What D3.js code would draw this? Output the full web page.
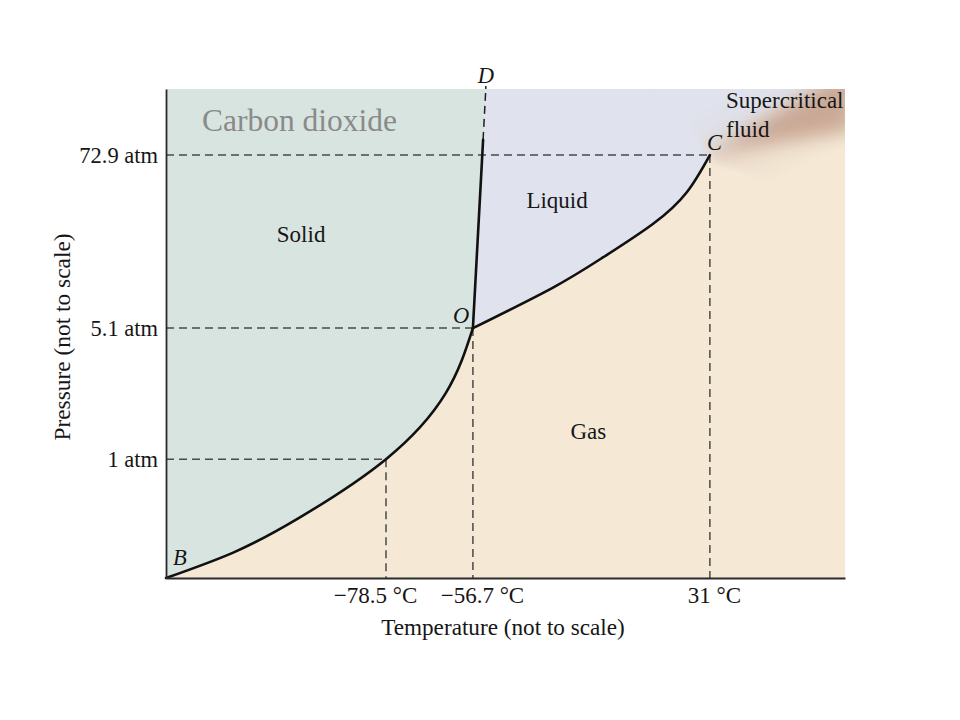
<!DOCTYPE html>
<html>
<head>
<meta charset="utf-8">
<script src="https://cdn.jsdelivr.net/npm/d3@7"></script>
<style>
  html, body { margin: 0; padding: 0; background: #ffffff; }
  svg { display: block; }
  text { font-family: "Liberation Serif", "DejaVu Serif", serif; fill: #161616; }
</style>
</head>
<body>
<svg id="chart" width="960" height="720"></svg>
<script>
// ---- Data (diagram units, not to scale: 0..100 on each axis) ----
const pressureLabels = ["1 atm", "5.1 atm", "72.9 atm"];
const pressureValues = [24.3, 51.1, 86.5];
const tempLabels = ["\u221278.5 \u00B0C", "\u221256.7 \u00B0C", "31 \u00B0C"];
const tempValues = [32.4, 45.2, 80.1];
const tempLabelShift = [-11, 9, 4];

// Sublimation curve B -> O
const sublimationT = [0, 9.9, 19.6, 32.4, 41.2, 45.2];
const sublimationP = [0, 5.2, 12.3, 24.3, 37.8, 51.1];
// Vaporization curve O -> C
const vaporT = [45.2, 57.0, 64.4, 71.7, 76.7, 80.1];
const vaporP = [51.1, 59.4, 65.6, 72.4, 78.9, 86.5];
// Fusion line O -> D (solid part, then dashed extension)
const fusionT = [45.2, 46.7];
const fusionP = [51.1, 89.6];
const fusionDashT = [46.7, 47.1];
const fusionDashP = [89.6, 100];
// Supercritical fluid tint (fan opening from C toward the top-right corner)
const superT = [80.7, 101, 101];
const superP = [87.1, 104.5, 91.5];

const points = [
  { name: "B", t: 0, p: 0, dx: 7, dy: -13 },
  { name: "O", t: 45.2, p: 51.1, dx: -20, dy: -5 },
  { name: "C", t: 80.1, p: 86.5, dx: -3, dy: -5 },
  { name: "D", t: 47.1, p: 100, dx: -8, dy: -6 }
];
const regionLabels = [
  { name: "Solid", t: 19.9, p: 68.7 },
  { name: "Liquid", t: 57.6, p: 75.7 },
  { name: "Gas", t: 62.2, p: 28.4 }
];

// ---- Layout ----
const svg = d3.select("#chart");
const mLeft = 166, mRight = 845, mTop = 89, mBottom = 578;
const x = d3.scaleLinear().domain([0, 100]).range([mLeft, mRight]);
const y = d3.scaleLinear().domain([0, 100]).range([mBottom, mTop]);

const zip = (a, b) => a.map((v, i) => [v, b[i]]);
const line = d3.line().x(d => x(d[0])).y(d => y(d[1])).curve(d3.curveNatural);
const straight = d3.line().x(d => x(d[0])).y(d => y(d[1]));

const LAV = "#e0e3ee", GAS = "#f5e9d6", SOL = "#d8e4e0";

const defs = svg.append("defs");
defs.append("clipPath").attr("id", "plotClip")
  .append("rect").attr("x", mLeft).attr("y", mTop).attr("width", mRight - mLeft).attr("height", mBottom - mTop);
const blur = defs.append("filter").attr("id", "soft").attr("x", "-20%").attr("y", "-20%").attr("width", "140%").attr("height", "140%");
blur.append("feGaussianBlur").attr("stdDeviation", 3);
const blur2 = defs.append("filter").attr("id", "soft2").attr("x", "-50%").attr("y", "-50%").attr("width", "200%").attr("height", "200%");
blur2.append("feGaussianBlur").attr("stdDeviation", 9);

// Gradient across the diagonal from C toward the top-right corner: liquid tint -> gas tint
const cx = x(80.1), cy = y(86.5);
const nx = 0.454, ny = 0.891;
const grad = defs.append("linearGradient").attr("id", "scGrad").attr("gradientUnits", "userSpaceOnUse")
  .attr("x1", cx - nx * 50).attr("y1", cy - ny * 50).attr("x2", cx + nx * 55).attr("y2", cy + ny * 55);
[[0, LAV], [0.3, "#dfdfe6"], [0.48, "#e2d5cc"], [0.62, "#ecdccb"], [1, GAS]]
  .forEach(s => grad.append("stop").attr("offset", s[0]).attr("stop-color", s[1]));

const plot = svg.append("g").attr("clip-path", "url(#plotClip)");

// Gas background
plot.append("rect").attr("x", mLeft).attr("y", mTop).attr("width", mRight - mLeft).attr("height", mBottom - mTop)
  .attr("fill", GAS);

// Solid region
const sub = zip(sublimationT, sublimationP);
const solidPts = [[0, 100], [fusionDashT[1], fusionDashP[1]], [fusionT[1], fusionP[1]]];
plot.append("path")
  .attr("d", straight(solidPts) + line(sub.slice().reverse()).replace(/^M/, "L") + "Z")
  .attr("fill", SOL);

// Liquid region
const vap = zip(vaporT, vaporP);
const liquidPts = [[fusionT[0], fusionP[0]], [fusionT[1], fusionP[1]], [fusionDashT[1], fusionDashP[1]],
  [79, 100], [80.1, 86.5]];
plot.append("path")
  .attr("d", straight(liquidPts) + line(vap.slice().reverse()).replace(/^M/, "L") + "Z")
  .attr("fill", LAV);

// Supercritical fluid: transition overlay + brown fan
plot.append("path")
  .attr("d", straight([[80.1, 86.5], [72, 102], [103, 102], [103, 75], [81, 85]]) + "Z")
  .attr("fill", "url(#scGrad)").attr("filter", "url(#soft)");
plot.append("path")
  .attr("d", straight(zip(superT, superP)) + "Z")
  .attr("fill", "#c4a08c").attr("opacity", 0.85).attr("filter", "url(#soft2)");

// Dashed guide lines
const guides = svg.append("g").attr("stroke", "#4a4a4a").attr("stroke-width", 1.5)
  .attr("stroke-dasharray", "8,5").attr("fill", "none");
pressureValues.forEach((p, i) => {
  guides.append("line").attr("x1", x(0)).attr("x2", x(tempValues[i])).attr("y1", y(p)).attr("y2", y(p));
  guides.append("line").attr("x1", x(tempValues[i])).attr("x2", x(tempValues[i])).attr("y1", y(p)).attr("y2", y(0));
});
guides.append("path").attr("d", straight(zip(fusionDashT, fusionDashP)))
  .attr("stroke", "#222");
guides.append("line").attr("x1", x(fusionDashT[1])).attr("x2", x(fusionDashT[1]))
  .attr("y1", y(100)).attr("y2", y(100) - 3).attr("stroke", "#222");

// Phase boundaries
const curves = svg.append("g").attr("stroke", "#111").attr("stroke-width", 2.6).attr("fill", "none")
  .attr("stroke-linecap", "round");
curves.append("path").attr("d", line(sub));
curves.append("path").attr("d", line(vap));
curves.append("path").attr("d", straight(zip(fusionT, fusionP)));

// Axes
const yAxis = d3.axisLeft(y).tickValues(pressureValues)
  .tickFormat((d, i) => pressureLabels[i]).tickSize(0).tickPadding(8);
const xAxis = d3.axisBottom(x).tickValues(tempValues)
  .tickFormat((d, i) => tempLabels[i]).tickSize(0).tickPadding(9);

const gy = svg.append("g").attr("transform", `translate(${mLeft},0)`).call(yAxis);
const gx = svg.append("g").attr("transform", `translate(0,${mBottom})`).call(xAxis);
[gx, gy].forEach(g => {
  g.select(".domain").attr("stroke", "#2a2a2a").attr("stroke-width", 1.8);
  g.selectAll("text").attr("fill", "#161616")
    .attr("font-family", "'Liberation Serif', serif");
});
gy.selectAll("text").attr("font-size", 22.5);
gx.selectAll("text").attr("font-size", 23);
gx.selectAll(".tick text").attr("dx", (d, i) => tempLabelShift[i]);

// Axis titles
svg.append("text").attr("x", 503).attr("y", 635).attr("text-anchor", "middle")
  .attr("font-size", 23.2).text("Temperature (not to scale)");
svg.append("text").attr("transform", "translate(70,337) rotate(-90)").attr("text-anchor", "middle")
  .attr("font-size", 23.4).text("Pressure (not to scale)");

// Title inside plot
svg.append("text").attr("x", 202).attr("y", 131).attr("font-size", 31.5)
  .style("fill", "#8a8a8a").text("Carbon dioxide");

// Region labels
svg.selectAll("text.region").data(regionLabels).join("text").attr("class", "region")
  .attr("x", d => x(d.t)).attr("y", d => y(d.p)).attr("text-anchor", "middle")
  .attr("font-size", 23).text(d => d.name);

svg.append("text").attr("x", 726).attr("y", 108).attr("font-size", 23).text("Supercritical");
svg.append("text").attr("x", 726).attr("y", 137).attr("font-size", 23).text("fluid");

// Point labels (italic)
svg.selectAll("text.pt").data(points).join("text").attr("class", "pt")
  .attr("x", d => x(d.t) + d.dx).attr("y", d => y(d.p) + d.dy)
  .attr("font-size", 22.5).attr("font-style", "italic").text(d => d.name);
</script>
</body>
</html>
